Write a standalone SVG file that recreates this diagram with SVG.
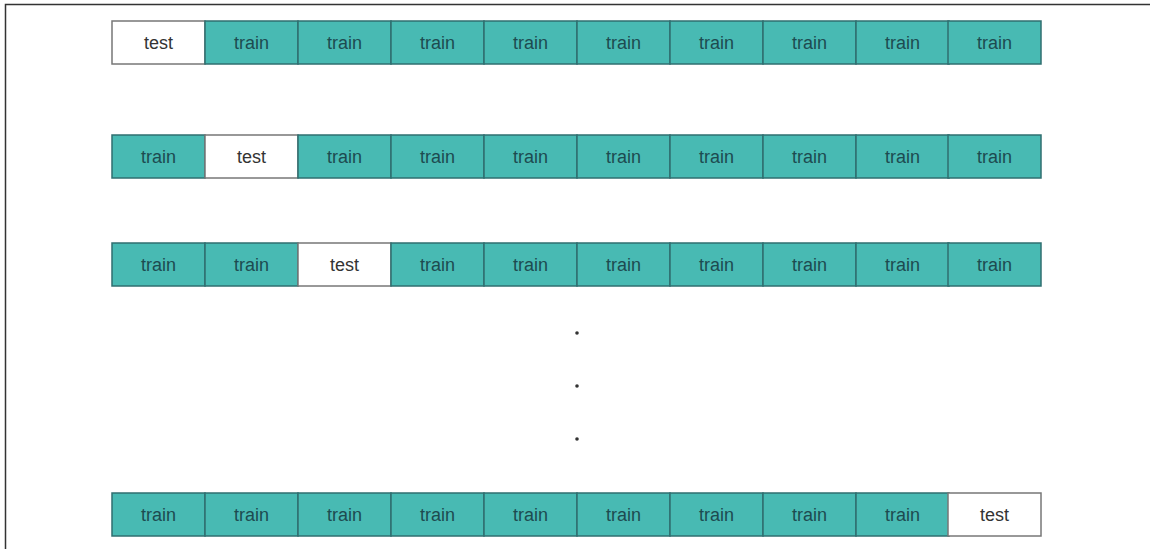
<svg xmlns="http://www.w3.org/2000/svg" width="1150" height="549" viewBox="0 0 1150 549">
<style>
.tr{fill:#48bab3;stroke:#2f6f70;stroke-width:1.5}
.te{fill:#ffffff;stroke:#777;stroke-width:1.5}
.tt{font-family:"Liberation Sans",Arial,sans-serif;font-size:18px;text-anchor:middle;fill:#1d4b50}
.ts{font-family:"Liberation Sans",Arial,sans-serif;font-size:18px;text-anchor:middle;fill:#333}
.dot{fill:#333}
</style>
<rect width="1150" height="549" fill="#ffffff"/>
<path d="M5.5,549 V4.5 H1150" fill="none" stroke="#333" stroke-width="1.5"/>
<defs>
<g id="train"><rect class="tr" x="0" y="0" width="93" height="43"/><text class="tt" x="46.5" y="28">train</text></g>
<g id="test"><rect class="te" x="0" y="0" width="93" height="43"/><text class="ts" x="46.5" y="28">test</text></g>
</defs>
<g id="row1">
<use href="#test" x="112" y="21"/>
<use href="#train" x="205" y="21"/>
<use href="#train" x="298" y="21"/>
<use href="#train" x="391" y="21"/>
<use href="#train" x="484" y="21"/>
<use href="#train" x="577" y="21"/>
<use href="#train" x="670" y="21"/>
<use href="#train" x="763" y="21"/>
<use href="#train" x="856" y="21"/>
<use href="#train" x="948" y="21"/>
</g>
<g id="row2">
<use href="#train" x="112" y="135"/>
<use href="#test" x="205" y="135"/>
<use href="#train" x="298" y="135"/>
<use href="#train" x="391" y="135"/>
<use href="#train" x="484" y="135"/>
<use href="#train" x="577" y="135"/>
<use href="#train" x="670" y="135"/>
<use href="#train" x="763" y="135"/>
<use href="#train" x="856" y="135"/>
<use href="#train" x="948" y="135"/>
</g>
<g id="row3">
<use href="#train" x="112" y="243"/>
<use href="#train" x="205" y="243"/>
<use href="#test" x="298" y="243"/>
<use href="#train" x="391" y="243"/>
<use href="#train" x="484" y="243"/>
<use href="#train" x="577" y="243"/>
<use href="#train" x="670" y="243"/>
<use href="#train" x="763" y="243"/>
<use href="#train" x="856" y="243"/>
<use href="#train" x="948" y="243"/>
</g>
<g id="dots">
<circle class="dot" cx="577" cy="333" r="1.8"/>
<circle class="dot" cx="577" cy="386" r="1.8"/>
<circle class="dot" cx="577" cy="439" r="1.8"/>
</g>
<g id="row4">
<use href="#train" x="112" y="493"/>
<use href="#train" x="205" y="493"/>
<use href="#train" x="298" y="493"/>
<use href="#train" x="391" y="493"/>
<use href="#train" x="484" y="493"/>
<use href="#train" x="577" y="493"/>
<use href="#train" x="670" y="493"/>
<use href="#train" x="763" y="493"/>
<use href="#train" x="856" y="493"/>
<use href="#test" x="948" y="493"/>
</g>
<g id="connectors"></g>
</svg>
